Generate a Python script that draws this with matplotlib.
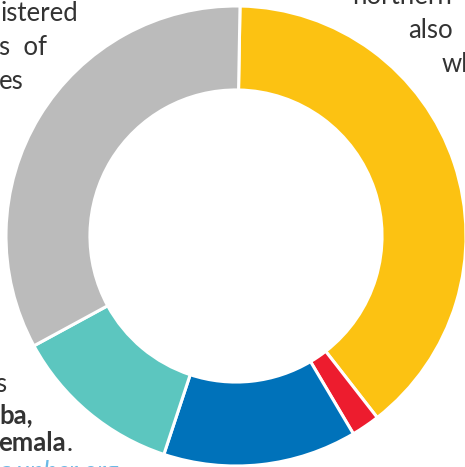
import matplotlib
matplotlib.use("Agg")
import matplotlib.pyplot as plt

# share of registered refugees by group
labels = ["Group A", "Group B", "Group C", "Group D", "Group E"]
values = [39.2, 2.0, 13.6, 12.0, 33.2]
colors = ["#FCC212", "#ED1C2E", "#0072BA", "#5CC6BF", "#BBBBBB"]

W, H = 465, 467
cx, cy, R = 236, 236, 230

fig = plt.figure(figsize=(W / 100, H / 100), dpi=100, facecolor="white")
ax = fig.add_axes([0, 0, 1, 1])
ax.pie(values, colors=colors, startangle=89, counterclock=False, radius=1,
       wedgeprops=dict(width=0.365, edgecolor="white", linewidth=2.2))
ax.set_xlim(-cx / R, (W - cx) / R)
ax.set_ylim(-(H - cy) / R, cy / R)
ax.set_aspect("auto")
ax.axis("off")

txt = "#333333"
fnt = "Lato"
fs = 18.5

def put(x, y, s, color=txt, **kw):
    # x, y in pixels from the top-left corner
    return fig.text(x / W, 1 - y / H, s, fontfamily=fnt, fontsize=fs,
                    color=color, va="baseline", **kw)

# fragments of surrounding paragraph text
put(1, 21, "istered")
put(-1, 55, "s  of")
put(-1, 89, "es")

put(452, 4, "northern", ha="right")
put(408, 38, "also")
put(442, 72, "wh")

put(-5, 392, "s")
put(-1, 423, "ba,", fontweight="bold")
t = put(-2, 451, "emala", fontweight="bold")
fig.canvas.draw()
bb = t.get_window_extent()
put(bb.x1 + 1, 451, ".")
put(-3, 479, "a.unhcr.org", color="#6BB9E6", style="italic")

fig.savefig("out.png", dpi=100, facecolor="white")
